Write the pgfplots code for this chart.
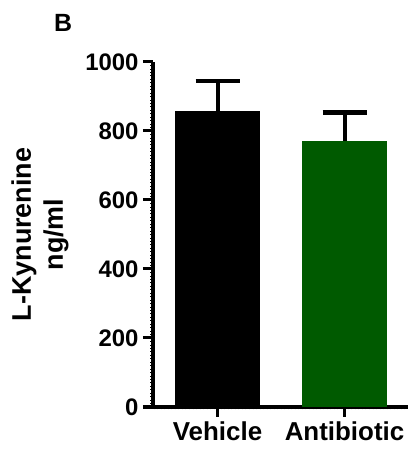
\documentclass[border=0pt]{standalone}
\usepackage{fontspec}
\setmainfont{Liberation Sans}
\usepackage{pgfplots}
\pgfplotsset{compat=1.18}
\definecolor{abgreen}{RGB}{0,90,0}
\begin{document}
\begin{tikzpicture}
\path[use as bounding box] (0,0) rectangle (408bp,457bp);
\node[font=\fontsize{25}{30}\selectfont\bfseries] at (63bp,434bp) {B};
\begin{axis}[
  at={(153bp,50bp)}, anchor=south west,
  scale only axis, width=255bp, height=345bp,
  xmin=-0.508, xmax=1.5, ymin=0, ymax=1000,
  axis x line*=bottom, axis y line*=left,
  axis line style={line width=3bp},
  xtick={0,1}, xticklabels={Vehicle,Antibiotic},
  ytick={0,200,400,600,800,1000},
  minor ytick={0,10,...,1000},
  minor xtick={-0.5,-0.4722,...,1.5},
  tick align=outside,
  major tick length=10bp, minor tick length=2.5bp,
  major tick style={line width=3bp, black},
  minor tick style={line width=0.7bp, black},
  /pgf/number format/assume math mode=true,
  /pgf/number format/1000 sep={},
  yticklabel style={font=\fontsize{24}{28}\selectfont\bfseries, xshift=-1bp},
  xticklabel style={font=\fontsize{26}{30}\selectfont\bfseries, yshift=-1bp},
  ylabel={L-Kynurenine\\ng/ml},
  ylabel style={at={(axis description cs:-0.443,0.5)}, anchor=center, align=center,
     font=\fontsize{27}{32}\selectfont\bfseries},
  ybar, bar width=85bp, bar shift=0pt,
  clip=false,
]
\addplot[fill=black, draw=none,
  error bars/.cd, y dir=plus, y explicit,
  error mark=|, error mark options={line width=4.5bp, mark size=22bp, black},
  error bar style={line width=4bp, black}]
  coordinates {(0,858) +- (0,87)};
\addplot[fill=abgreen, draw=none,
  error bars/.cd, y dir=plus, y explicit,
  error mark=|, error mark options={line width=4.5bp, mark size=22bp, black},
  error bar style={line width=4bp, black}]
  coordinates {(1,771) +- (0,82)};
\end{axis}
\end{tikzpicture}
\end{document}
